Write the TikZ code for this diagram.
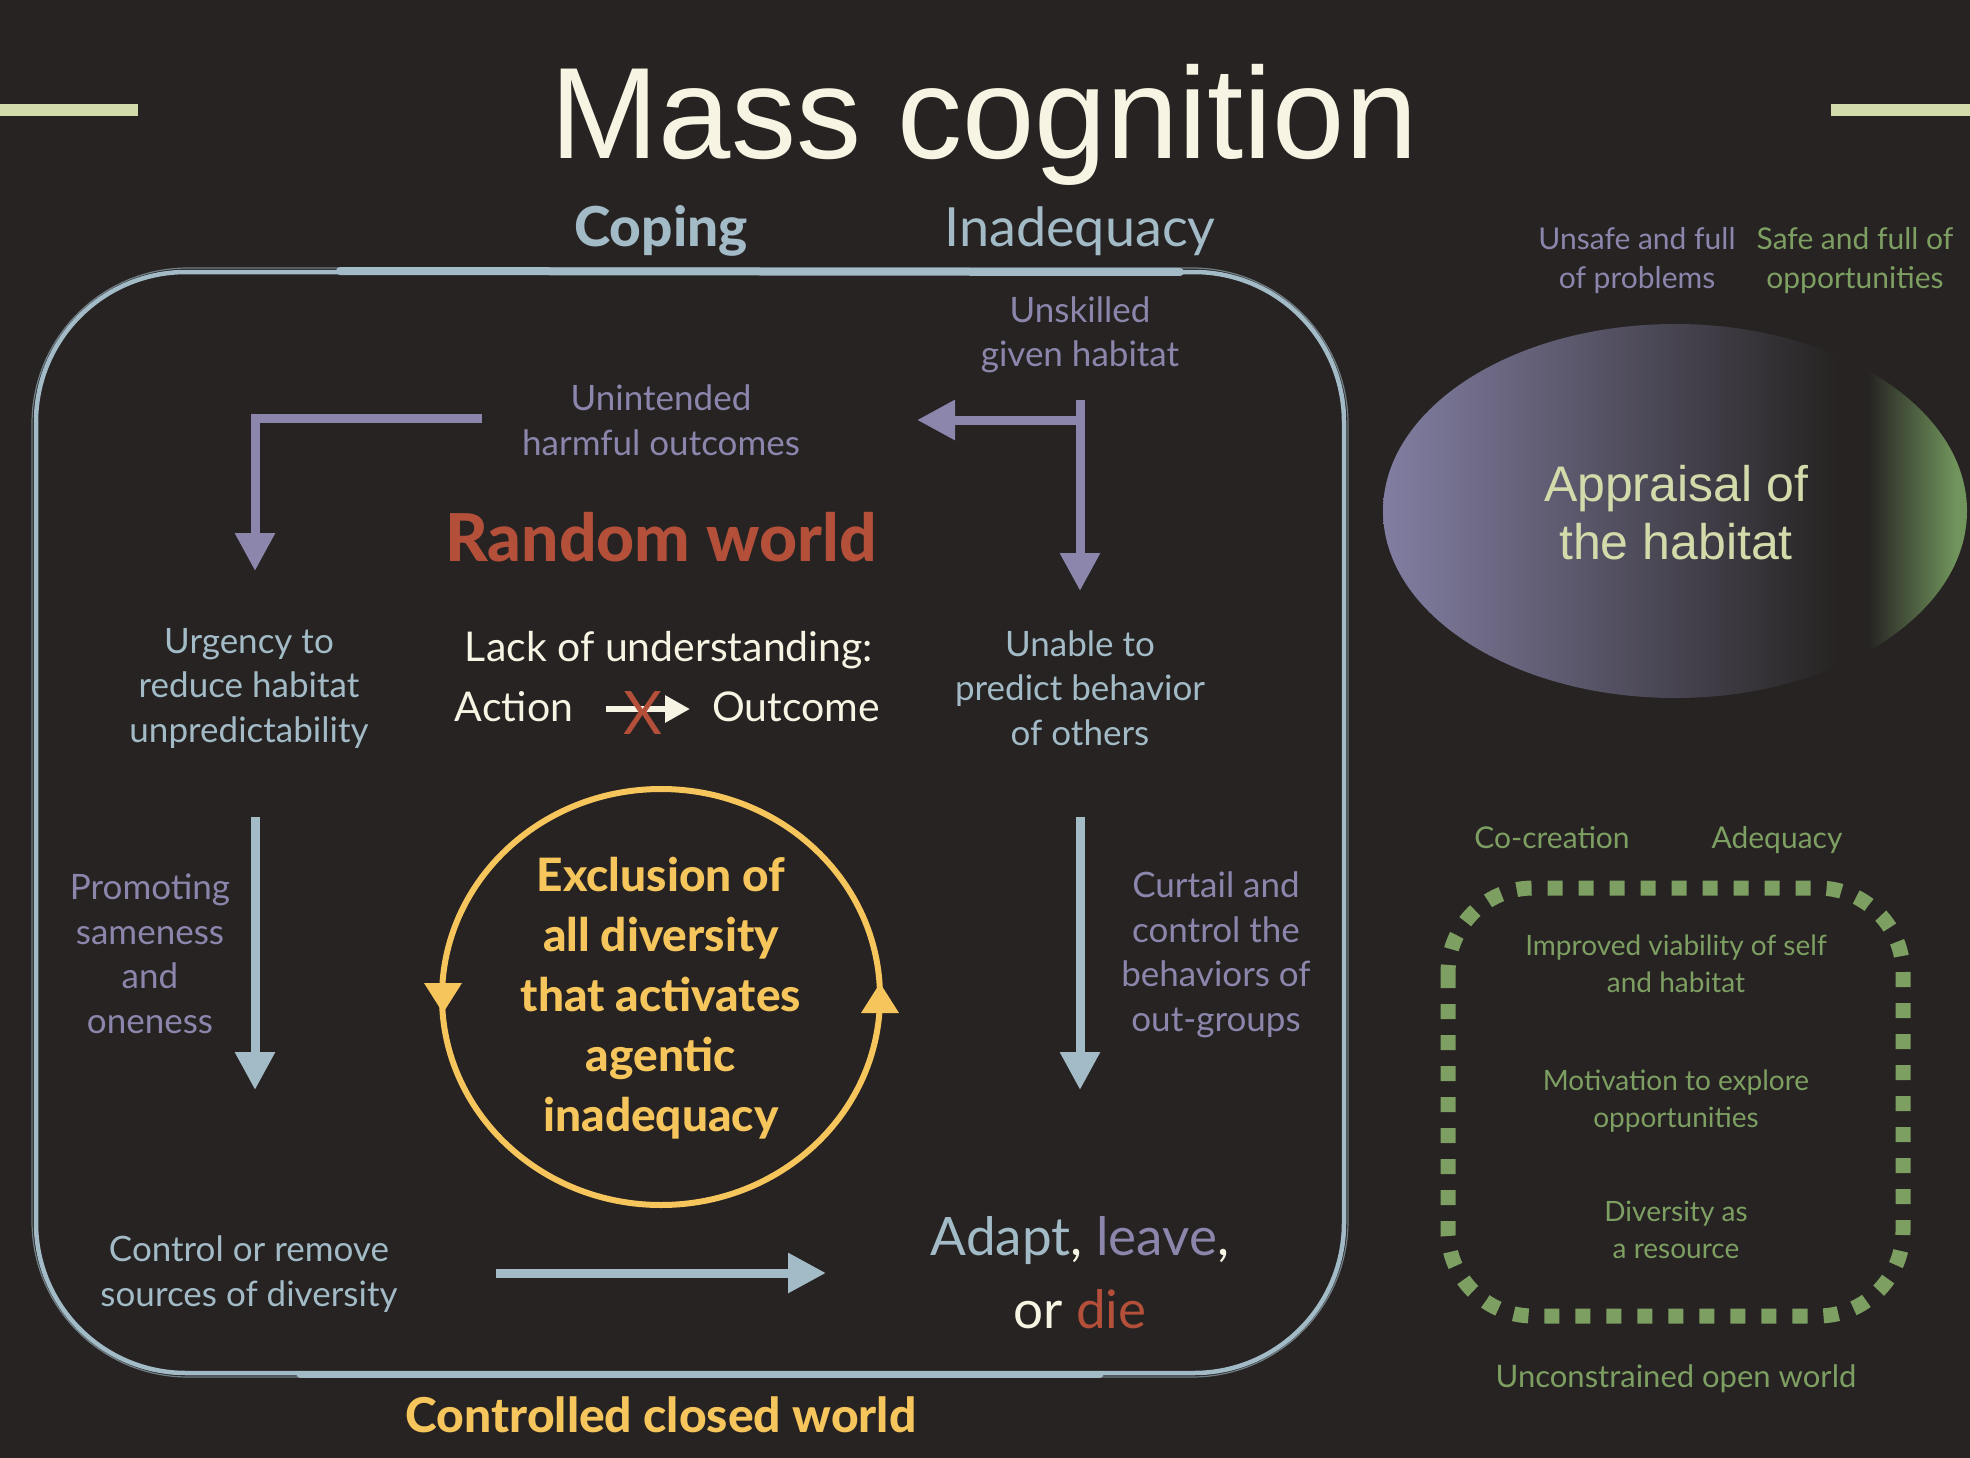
\documentclass[tikz,border=0pt]{standalone}
\usepackage{fontspec}
\setmainfont{Lato}
\newfontfamily\helv{Liberation Sans}
\IfFontExistsTF{Lato Heavy}{\newfontfamily\heavy{Lato Heavy}}{%
  \IfFontExistsTF{Lato Black}{\newfontfamily\heavy{Lato Black}}{\newcommand\heavy{\bfseries}}}
\usetikzlibrary{arrows.meta,shapes.geometric}
\definecolor{bg}{RGB}{38,35,34}
\definecolor{lblue}{RGB}{162,187,199}
\definecolor{purp}{RGB}{140,134,173}
\definecolor{redc}{RGB}{180,80,58}
\definecolor{yel}{RGB}{246,197,91}
\definecolor{cream}{RGB}{247,244,228}
\definecolor{pale}{RGB}{212,219,170}
\definecolor{grn}{RGB}{125,159,98}
\definecolor{apurp}{RGB}{130,126,162}
\definecolor{agrn}{RGB}{112,148,92}
\pgfdeclarehorizontalshading{apprshade}{100bp}{color(0bp)=(apurp); color(25bp)=(apurp); color(64bp)=(bg); color(66.5bp)=(bg); color(74bp)=(agrn); color(100bp)=(agrn)}
\begin{document}
\begin{tikzpicture}[x=1pt,y=-1pt,
  txt/.style={align=center, inner sep=0pt},
  body/.style={txt, font=\fontsize{35}{44.5}\selectfont},
  small/.style={txt, font=\fontsize{28}{37.5}\selectfont},
  tipbig/.style={-{Triangle[length=38pt,width=38pt]}},
  parr/.style={purp, line width=9pt, tipbig},
  barr/.style={lblue, line width=9pt, tipbig},
]
\fill[bg] (0,0) rectangle (1970,1458);
\useasboundingbox (0,0) rectangle (1970,1458);

% title
\node[txt, anchor=base, text=cream, font=\helv\fontsize{130}{130}\selectfont] (title) at (984,159) {Mass cognition};
\fill[pale] (0,104) rectangle (138,116);
\fill[pale] (1831,104) rectangle (1970,116);

\node[txt, anchor=base, text=lblue, font=\heavy\fontsize{55}{55}\selectfont] (coping) at (661,246) {Coping};
\node[txt, anchor=base, text=lblue, font=\fontsize{54}{54}\selectfont] (inad) at (1080,246) {Inadequacy};

% closed world border
\draw[lblue, line width=4.5pt, rounded corners=150pt] (36,272) rectangle (1344,1373);
\draw[lblue, line width=1.2pt, rounded corners=156pt, opacity=.6] (32,268) rectangle (1348,1377);
\draw[lblue, line width=8pt, line cap=round] (340,271) -- (1180,272);
\draw[lblue, line width=2pt] (290,273) -- (330,273);
\draw[lblue, line width=7pt, line cap=round] (300,1374) -- (1100,1374);

% top texts
\node[body, text=purp] (unsk) at (1080,335) {Unskilled\\given habitat};
\node[body, text=purp] (unint) at (661,420) {Unintended\\harmful outcomes};
\node[txt, anchor=base, text=redc, font=\heavy\fontsize{66}{66}\selectfont] (random) at (661,561) {Random world};

% purple arrows
\coordinate (p1s) at (482,418);
\coordinate (p1e) at (255,571);
\draw[parr] (p1s) -| (p1e);
\coordinate (p2s) at (1080,400);
\coordinate (p2e) at (1080,591);
\draw[parr] (p2s) -- (p2e);
\coordinate (p3s) at (1084.5,420);
\coordinate (p3e) at (917,420);
\draw[parr] (p3s) -- (p3e);

% middle row
\node[body, text=lblue] (urg) at (249,688) {Urgency to\\reduce habitat\\unpredictability};
\node[body, text=lblue] (unab) at (1080,688) {Unable to\\predict behavior\\of others};
\node[txt, anchor=base, text=cream, font=\fontsize{41}{41}\selectfont] (lack) at (669,661) {Lack of understanding:};
\node[txt, anchor=base, text=cream, font=\fontsize{41}{41}\selectfont] (action) at (514,721) {Action};
\node[txt, anchor=base, text=cream, font=\fontsize{41}{41}\selectfont] (outc) at (796,721) {Outcome};
\coordinate (as) at (606,709);
\coordinate (ae) at (690,709);
\draw[cream, line width=6pt, -{Triangle[length=25pt,width=26pt]}] (as) -- (ae);
\node[txt, text=redc, font=\fontsize{60}{60}\selectfont] (xmark) at (643,713) {X};

% blue vertical arrows
\coordinate (b1s) at (255,817);
\coordinate (b1e) at (255,1090);
\draw[barr] (b1s) -- (b1e);
\coordinate (b2s) at (1080,817);
\coordinate (b2e) at (1080,1090);
\draw[barr] (b2s) -- (b2e);
\node[body, text=purp] (prom) at (150,954) {Promoting\\sameness\\and\\oneness};
\node[body, text=purp] (curt) at (1216,955) {Curtail and\\control the\\behaviors of\\out-groups};

% loop
\node[draw=yel, line width=6pt, ellipse, minimum width=438pt, minimum height=416pt, inner sep=0pt] (loop) at (661,997) {};
\fill[yel] (424,983) -- (462,983) -- (443,1013) -- cycle;
\fill[yel] (861,1013) -- (899,1013) -- (880,983) -- cycle;
\node[txt, text=yel, font=\heavy\fontsize{46}{60}\selectfont] (excl) at (661,998) {Exclusion of\\all diversity\\that activates\\agentic\\inadequacy};

% bottom
\node[body, text=lblue] (ctrl) at (249,1274) {Control or remove\\sources of diversity};
\coordinate (hs) at (496,1273);
\coordinate (he) at (826,1273);
\draw[barr] (hs) -- (he);
\node[txt, anchor=base, font=\fontsize{53}{53}\selectfont] (adapt) at (1080,1255) {\textcolor{lblue}{Adapt}\textcolor{cream}{,} \textcolor{purp}{leave}\textcolor{cream}{,}};
\node[txt, anchor=base, font=\fontsize{53}{53}\selectfont] (ordie) at (1080,1328) {\textcolor{cream}{or} \textcolor{redc}{die}};
\node[txt, anchor=base, text=yel, font=\heavy\fontsize{48}{48}\selectfont] (closed) at (661,1432) {Controlled closed world};

% right panel
\node[txt, text=purp, font=\fontsize{30}{39}\selectfont] (unsafe) at (1637,261) {Unsafe and full\\of problems};
\node[txt, text=grn, font=\fontsize{30}{39}\selectfont] (safe) at (1855,261) {Safe and full of\\opportunities};
\node[ellipse, minimum width=584pt, minimum height=374pt, inner sep=0pt, shading=apprshade] (appr) at (1675,511) {};
\node[txt, text=pale, font=\helv\fontsize{50}{58}\selectfont] (apprtxt) at (1676,513) {Appraisal of\\the habitat};

\node[txt, anchor=base, text=grn, font=\fontsize{30}{30}\selectfont] (cocr) at (1552,848) {Co-creation};
\node[txt, anchor=base, text=grn, font=\fontsize{30}{30}\selectfont] (adeq) at (1777,848) {Adequacy};
\draw[grn, line width=15pt, dash pattern=on 15pt off 16pt, rounded corners=85pt] (1448,888) rectangle (1903,1316);
\node[small, text=grn] (impr) at (1676,964) {Improved viability of self\\and habitat};
\node[small, text=grn] (moti) at (1676,1101) {Motivation to explore\\opportunities};
\node[small, text=grn] (divr) at (1676,1230) {Diversity as\\a resource};
\node[txt, anchor=base, text=grn, font=\fontsize{31}{31}\selectfont] (open) at (1676,1387) {Unconstrained open world};
\end{tikzpicture}
\end{document}
